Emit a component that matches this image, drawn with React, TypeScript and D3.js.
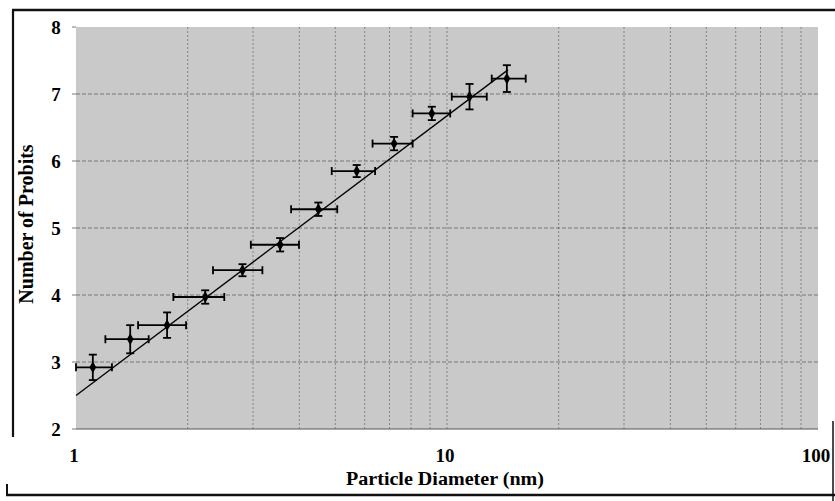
import React, { useRef, useEffect } from 'react';
import * as d3 from 'd3';

// particle diameter (nm) and probit values
const diameters = [1.11, 1.40, 1.76, 2.23, 2.81, 3.55, 4.50, 5.71, 7.20, 9.10, 11.5, 14.5];
const probits = [2.92, 3.34, 3.55, 3.97, 4.37, 4.75, 5.28, 5.85, 6.26, 6.71, 6.96, 7.23];
// horizontal error bars (low / high diameter)
const xLow = [1.00, 1.20, 1.47, 1.83, 2.34, 2.96, 3.80, 4.89, 6.30, 8.08, 10.3, 13.2];
const xHigh = [1.25, 1.57, 1.98, 2.51, 3.18, 3.99, 5.06, 6.40, 8.08, 10.2, 12.8, 16.3];
// vertical error bars (+/-)
const yErr = [0.19, 0.21, 0.19, 0.10, 0.09, 0.10, 0.10, 0.09, 0.10, 0.10, 0.19, 0.20];

// fitted line end points
const fitX = [1.0, 14.6];
const fitY = [2.50, 7.36];

const xTicks = [1, 10, 100];
const yTicks = [2, 3, 4, 5, 6, 7, 8];

const ProbitChart = () => {
  const svgRef = useRef(null);

  useEffect(() => {
    const width = 835;
    const height = 501;
    const left = 76, right = 818, top = 27, bottom = 429;

    const svg = d3.select(svgRef.current)
      .attr('width', width)
      .attr('height', height);
    svg.selectAll('*').remove();

    const x = d3.scaleLog().domain([1, 100]).range([left, right]);
    const y = d3.scaleLinear().domain([2, 8]).range([bottom, top]);

    // outer frame (scanned page border)
    const frame = svg.append('g').attr('stroke', '#111').attr('fill', 'none');
    frame.append('line').attr('x1', 12).attr('x2', 835).attr('y1', 10).attr('y2', 10).attr('stroke-width', 2.4);
    frame.append('line').attr('x1', 13).attr('x2', 13).attr('y1', 10).attr('y2', 437).attr('stroke-width', 2.2);
    frame.append('line').attr('x1', 6).attr('x2', 835).attr('y1', 495).attr('y2', 495).attr('stroke-width', 2.4);
    frame.append('line').attr('x1', 7).attr('x2', 7).attr('y1', 484).attr('y2', 496).attr('stroke-width', 2);
    frame.append('line').attr('x1', 833).attr('x2', 833).attr('y1', 421).attr('y2', 501).attr('stroke-width', 1.5);

    // plot background
    svg.append('rect')
      .attr('x', left).attr('y', top)
      .attr('width', right - left).attr('height', bottom - top)
      .attr('fill', '#c9c9c9');

    // vertical grid at each log step
    const minor = [];
    [1, 10].forEach(dec => { for (let k = 2; k <= 9; k++) minor.push(dec * k); });
    minor.push(10);
    svg.append('g').selectAll('line')
      .data(minor)
      .enter()
      .append('line')
      .attr('x1', d => x(d)).attr('x2', d => x(d))
      .attr('y1', top).attr('y2', bottom)
      .attr('stroke', '#3a3a3a')
      .attr('stroke-width', 0.8)
      .attr('stroke-dasharray', '2,2')
      .attr('opacity', 0.6);

    // horizontal grid
    svg.append('g').selectAll('line')
      .data(yTicks.slice(1, -1))
      .enter()
      .append('line')
      .attr('x1', left).attr('x2', right)
      .attr('y1', d => y(d)).attr('y2', d => y(d))
      .attr('stroke', '#3a3a3a')
      .attr('stroke-width', 0.8)
      .attr('stroke-dasharray', '4,2')
      .attr('opacity', 0.7);

    // bottom edge of plot area
    svg.append('line')
      .attr('x1', left).attr('x2', right)
      .attr('y1', bottom).attr('y2', bottom)
      .attr('stroke', '#555').attr('stroke-width', 1);

    // y tick marks and labels
    svg.append('g').selectAll('line')
      .data(yTicks)
      .enter()
      .append('line')
      .attr('x1', left - 4).attr('x2', left)
      .attr('y1', d => y(d)).attr('y2', d => y(d))
      .attr('stroke', '#555').attr('stroke-width', 0.8);

    const font = '"Liberation Serif", "Times New Roman", serif';

    svg.append('g').selectAll('text')
      .data(yTicks)
      .enter()
      .append('text')
      .text(d => d)
      .attr('x', 56)
      .attr('y', d => y(d))
      .attr('dy', '0.35em')
      .style('text-anchor', 'middle')
      .style('font-family', font)
      .style('font-weight', 'bold')
      .style('font-size', '19px');

    svg.append('g').selectAll('text')
      .data(xTicks)
      .enter()
      .append('text')
      .text(d => d)
      .attr('x', d => x(d) - 2)
      .attr('y', 462)
      .style('text-anchor', 'middle')
      .style('font-family', font)
      .style('font-weight', 'bold')
      .style('font-size', '19px');

    // axis titles
    svg.append('text')
      .text('Particle Diameter (nm)')
      .attr('x', 445)
      .attr('y', 485)
      .attr('textLength', 198)
      .attr('lengthAdjust', 'spacingAndGlyphs')
      .style('text-anchor', 'middle')
      .style('font-family', font)
      .style('font-weight', 'bold')
      .style('font-size', '18px');

    svg.append('text')
      .text('Number of Probits')
      .attr('transform', 'translate(33,224) rotate(-90)')
      .style('text-anchor', 'middle')
      .style('font-family', font)
      .style('font-weight', 'bold')
      .style('font-size', '20px');

    // fitted line
    const line = d3.line()
      .x(d => x(d[0]))
      .y(d => y(d[1]));
    svg.append('path')
      .datum(fitX.map((v, i) => [v, fitY[i]]))
      .attr('d', line)
      .attr('fill', 'none')
      .attr('stroke', '#000')
      .attr('stroke-width', 1.3);

    // error bars and markers
    const pts = diameters.map((d, i) => ({
      x: d, y: probits[i], lo: xLow[i], hi: xHigh[i], e: yErr[i]
    }));
    const cap = 4;
    const g = svg.append('g').attr('stroke', '#000').attr('stroke-width', 1.8);
    const bars = g.selectAll('g').data(pts).enter().append('g');
    bars.append('line')
      .attr('x1', d => x(d.lo)).attr('x2', d => x(d.hi))
      .attr('y1', d => y(d.y)).attr('y2', d => y(d.y));
    bars.append('line')
      .attr('x1', d => x(d.lo)).attr('x2', d => x(d.lo))
      .attr('y1', d => y(d.y) - cap).attr('y2', d => y(d.y) + cap);
    bars.append('line')
      .attr('x1', d => x(d.hi)).attr('x2', d => x(d.hi))
      .attr('y1', d => y(d.y) - cap).attr('y2', d => y(d.y) + cap);
    bars.append('line')
      .attr('x1', d => x(d.x)).attr('x2', d => x(d.x))
      .attr('y1', d => y(d.y + d.e)).attr('y2', d => y(d.y - d.e));
    bars.append('line')
      .attr('x1', d => x(d.x) - cap).attr('x2', d => x(d.x) + cap)
      .attr('y1', d => y(d.y - d.e)).attr('y2', d => y(d.y - d.e));
    bars.append('line')
      .attr('x1', d => x(d.x) - cap).attr('x2', d => x(d.x) + cap)
      .attr('y1', d => y(d.y + d.e)).attr('y2', d => y(d.y + d.e));

    const diamond = d3.symbol().type(d3.symbolDiamond).size(40);
    svg.append('g').selectAll('path')
      .data(pts)
      .enter()
      .append('path')
      .attr('d', diamond)
      .attr('transform', d => `translate(${x(d.x)},${y(d.y)})`)
      .attr('fill', '#000');
  }, []);

  return <svg ref={svgRef} style={{ position: 'absolute', left: 0, top: 0 }}></svg>;
};

export default function App() {
  return <ProbitChart />;
}
